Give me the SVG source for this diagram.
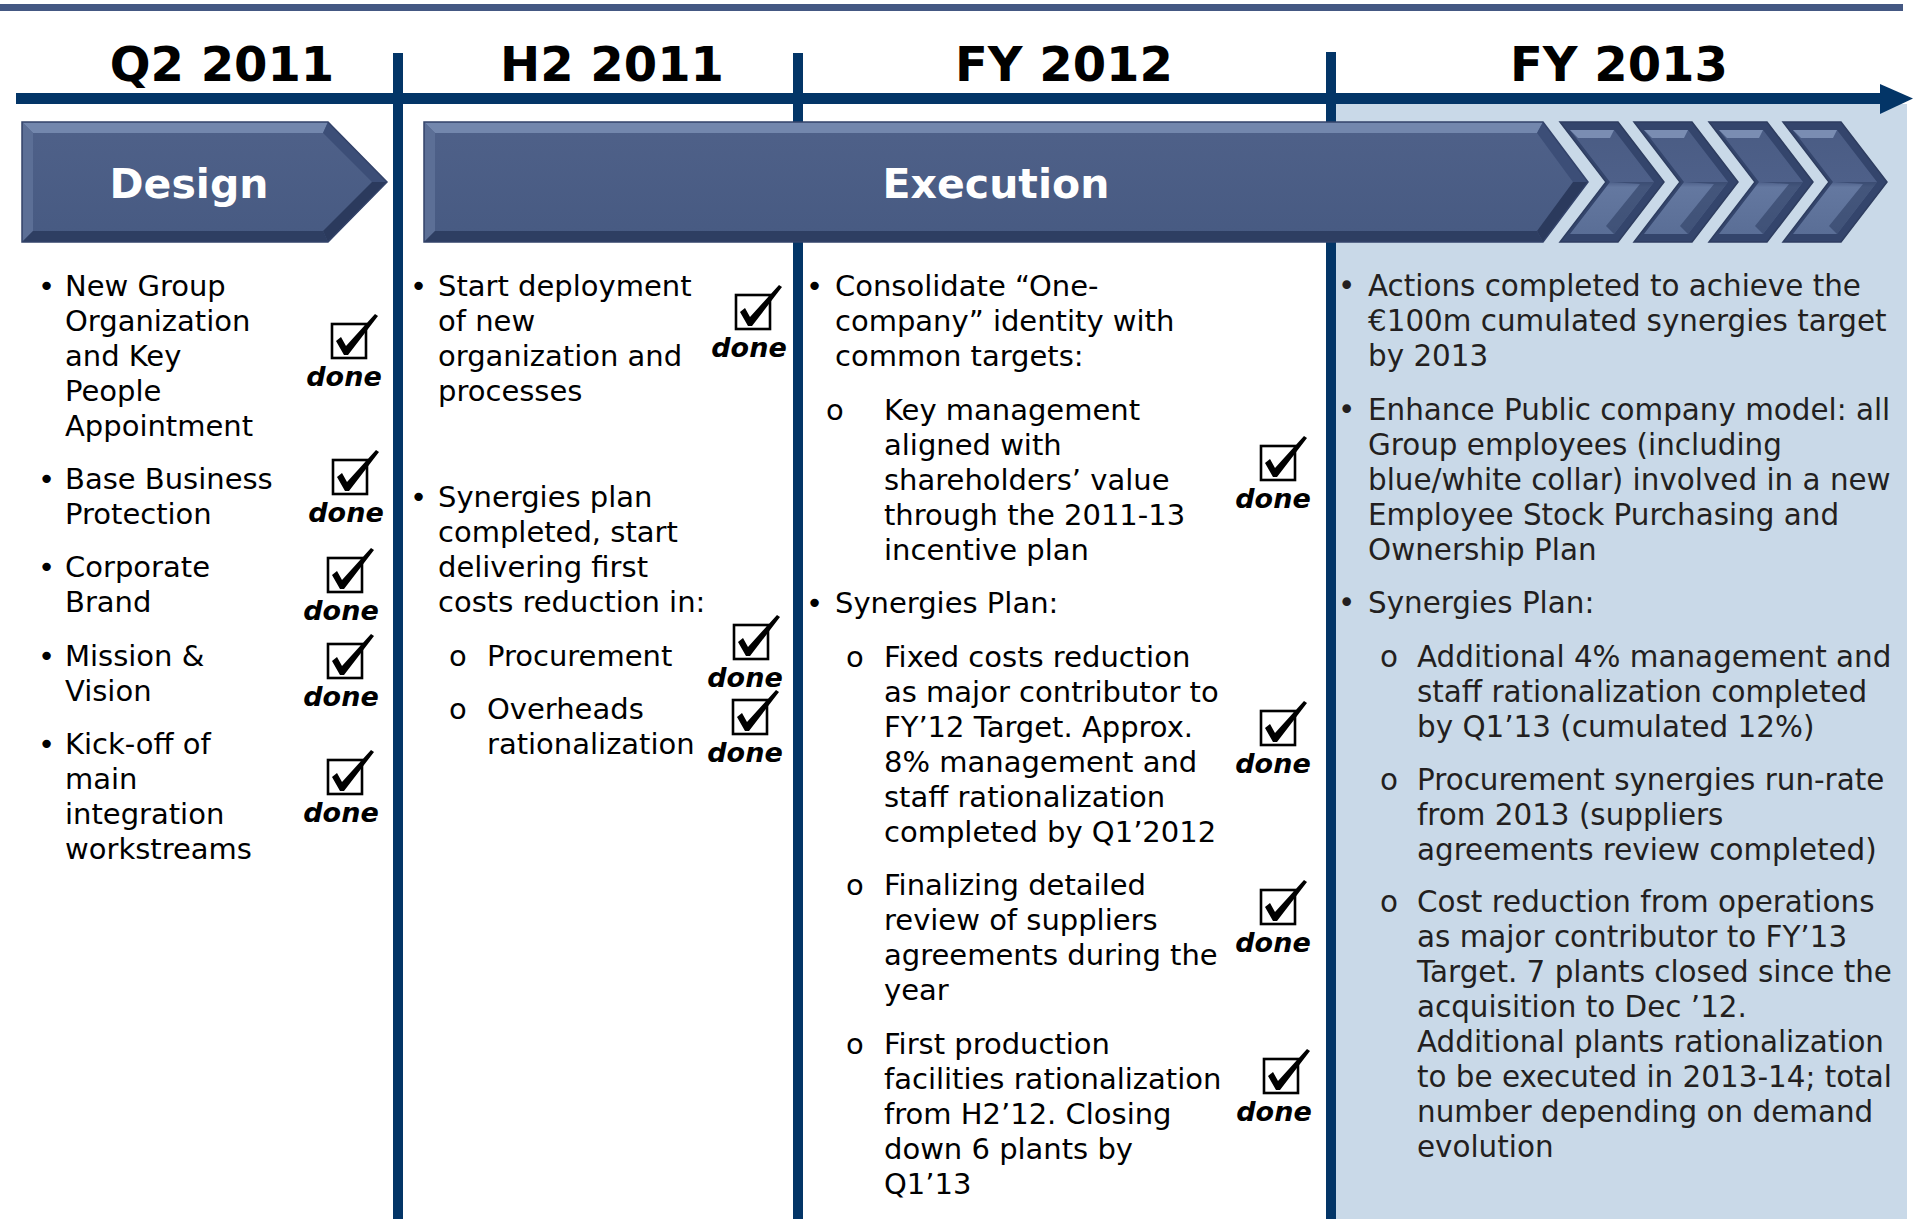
<svg xmlns="http://www.w3.org/2000/svg" xmlns:xlink="http://www.w3.org/1999/xlink" width="1925" height="1219" viewBox="0 0 1925 1219">
<style>
.t{font-family:"DejaVu Sans",Verdana,sans-serif;font-size:29px;fill:#000}
.t4{fill:#231F20;font-size:29.4px}
.hd{font-family:"DejaVu Sans",Verdana,sans-serif;font-weight:bold;font-size:48px;text-anchor:middle;fill:#000}
.ph{font-family:"DejaVu Sans",Verdana,sans-serif;font-weight:bold;font-size:41px;text-anchor:middle;fill:#fff}
.dn{font-family:"DejaVu Sans",Verdana,sans-serif;font-weight:bold;font-style:italic;font-size:27px;text-anchor:middle;fill:#000}
.div{fill:#033567}
.face{fill:url(#faceG)}
.btop{fill:#7387AD}
.bleft{fill:#5C6F96}
.bbot{fill:#2E3E62}
.bru{fill:#3C4E77}
.brl{fill:#2B3A5D}
.edge{fill:none;stroke:#33436A;stroke-width:1.5}
</style>
<defs>
<linearGradient id="faceG" x1="0" y1="0" x2="0" y2="1">
<stop offset="0" stop-color="#4F6189"/>
<stop offset="1" stop-color="#475A82"/>
</linearGradient>
<linearGradient id="chevG" x1="0" y1="0" x2="0" y2="1">
<stop offset="0" stop-color="#4A5C84"/>
<stop offset="0.5" stop-color="#4E6089"/>
<stop offset="0.55" stop-color="#6478A0"/>
<stop offset="1" stop-color="#5A6E96"/>
</linearGradient>
<g id="chev">
<polygon points="0,0 58,0 104,60 58,120 0,120 46,60" fill="#34456C" stroke="#2E3D60" stroke-width="1.5"/>
<polygon points="10,8 54,8 94,60 54,112 10,112 50,60" fill="url(#chevG)"/>
<polygon points="10,8 54,8 50,16 18,16" fill="#7A8DB2"/>
<polygon points="50,60 94,60 54,112 46,104 80,62" fill="#2F3F64" opacity="0.6"/>
</g>
<g id="box">
<rect x="-17" y="-17" width="34" height="34" fill="none" stroke="#000" stroke-width="2.6"/>
<path d="M-13,0 L-8,-4 L-3,5 L26,-27 L29,-25 L-1,14 L-5,14 Z" fill="#000"/>
</g>
</defs>

<rect id="topbar" x="0" y="4" width="1903" height="7" fill="#445883"/>

<rect id="panel-fy2013" x="1331" y="104" width="576" height="1115" fill="#C9D9E8"/>

<g id="connectors">
<rect class="div" x="16" y="93" width="1866" height="11"/>
<polygon class="div" points="1880,84 1913,98.5 1880,114"/>
<rect class="div" x="393" y="53" width="10" height="1166"/>
<rect class="div" x="793" y="53" width="10" height="1166"/>
<rect class="div" x="1326" y="52" width="10" height="1167"/>
</g>

<g id="headers">
<text class="hd" x="222" y="81">Q2 2011</text>
<text class="hd" x="612" y="81">H2 2011</text>
<text class="hd" x="1064" y="81">FY 2012</text>
<text class="hd" x="1619" y="81">FY 2013</text>
</g>

<g id="design-arrow">
<polygon class="face" points="22,122 328,122 387,182 328,242 22,242"/>
<polygon class="btop" points="22,122 328,122 323,133 33,133"/>
<polygon class="bleft" points="22,122 33,133 33,231 22,242"/>
<polygon class="bbot" points="22,242 33,231 323,231 328,242"/>
<polygon class="bru" points="328,122 387,182 372,182 323,133"/>
<polygon class="brl" points="387,182 328,242 323,231 372,182"/>
<polygon class="edge" points="22,122 328,122 387,182 328,242 22,242"/>
<text class="ph" x="189" y="198">Design</text>
</g>

<g id="execution-arrow">
<polygon class="face" points="424,122 1543,122 1588,182 1543,242 424,242"/>
<polygon class="btop" points="424,122 1543,122 1537,133 435,133"/>
<polygon class="bleft" points="424,122 435,133 435,231 424,242"/>
<polygon class="bbot" points="424,242 435,231 1537,231 1543,242"/>
<polygon class="bru" points="1543,122 1588,182 1573,182 1537,133"/>
<polygon class="brl" points="1588,182 1543,242 1537,231 1573,182"/>
<polygon class="edge" points="424,122 1543,122 1588,182 1543,242 424,242"/>
<use xlink:href="#chev" x="1560" y="122"/>
<use xlink:href="#chev" x="1634" y="122"/>
<use xlink:href="#chev" x="1709" y="122"/>
<use xlink:href="#chev" x="1783" y="122"/>
<text class="ph" x="996" y="198">Execution</text>
</g>

<g id="col-q2-2011">
<text class="t" x="38" y="296">•</text>
<text class="t" x="65" y="296">New Group</text>
<text class="t" x="65" y="331">Organization</text>
<text class="t" x="65" y="366">and Key</text>
<text class="t" x="65" y="401">People</text>
<text class="t" x="65" y="436">Appointment</text>
<text class="t" x="38" y="489">•</text>
<text class="t" x="65" y="489">Base Business</text>
<text class="t" x="65" y="524">Protection</text>
<text class="t" x="38" y="577">•</text>
<text class="t" x="65" y="577">Corporate</text>
<text class="t" x="65" y="612">Brand</text>
<text class="t" x="38" y="666">•</text>
<text class="t" x="65" y="666">Mission &amp;</text>
<text class="t" x="65" y="701">Vision</text>
<text class="t" x="38" y="754">•</text>
<text class="t" x="65" y="754">Kick-off of</text>
<text class="t" x="65" y="789">main</text>
<text class="t" x="65" y="824">integration</text>
<text class="t" x="65" y="859">workstreams</text>
<use xlink:href="#box" x="349" y="341"/>
<text class="dn" x="344" y="386">done</text>
<use xlink:href="#box" x="350" y="477"/>
<text class="dn" x="346" y="522">done</text>
<use xlink:href="#box" x="345" y="575"/>
<text class="dn" x="341" y="620">done</text>
<use xlink:href="#box" x="345" y="661"/>
<text class="dn" x="341" y="706">done</text>
<use xlink:href="#box" x="345" y="777"/>
<text class="dn" x="341" y="822">done</text>
</g>

<g id="col-h2-2011">
<text class="t" x="410" y="296">•</text>
<text class="t" x="438" y="296">Start deployment</text>
<text class="t" x="438" y="331">of new</text>
<text class="t" x="438" y="366">organization and</text>
<text class="t" x="438" y="401">processes</text>
<text class="t" x="410" y="507">•</text>
<text class="t" x="438" y="507">Synergies plan</text>
<text class="t" x="438" y="542">completed, start</text>
<text class="t" x="438" y="577">delivering first</text>
<text class="t" x="438" y="612">costs reduction in:</text>
<text class="t" x="449" y="666">o</text>
<text class="t" x="487" y="666">Procurement</text>
<text class="t" x="449" y="719">o</text>
<text class="t" x="487" y="719">Overheads</text>
<text class="t" x="487" y="754">rationalization</text>
<use xlink:href="#box" x="753" y="312"/>
<text class="dn" x="749" y="357">done</text>
<use xlink:href="#box" x="751" y="642"/>
<text class="dn" x="745" y="687">done</text>
<use xlink:href="#box" x="750" y="717"/>
<text class="dn" x="745" y="762">done</text>
</g>

<g id="col-fy2012">
<text class="t" x="806" y="296">•</text>
<text class="t" x="835" y="296">Consolidate “One-</text>
<text class="t" x="835" y="331">company” identity with</text>
<text class="t" x="835" y="366">common targets:</text>
<text class="t" x="826" y="420">o</text>
<text class="t" x="884" y="420">Key management</text>
<text class="t" x="884" y="455">aligned with</text>
<text class="t" x="884" y="490">shareholders’ value</text>
<text class="t" x="884" y="525">through the 2011-13</text>
<text class="t" x="884" y="560">incentive plan</text>
<text class="t" x="806" y="613">•</text>
<text class="t" x="835" y="613">Synergies Plan:</text>
<text class="t" x="846" y="667">o</text>
<text class="t" x="884" y="667">Fixed costs reduction</text>
<text class="t" x="884" y="702">as major contributor to</text>
<text class="t" x="884" y="737">FY’12 Target. Approx.</text>
<text class="t" x="884" y="772">8% management and</text>
<text class="t" x="884" y="807">staff rationalization</text>
<text class="t" x="884" y="842">completed by Q1’2012</text>
<text class="t" x="846" y="895">o</text>
<text class="t" x="884" y="895">Finalizing detailed</text>
<text class="t" x="884" y="930">review of suppliers</text>
<text class="t" x="884" y="965">agreements during the</text>
<text class="t" x="884" y="1000">year</text>
<text class="t" x="846" y="1054">o</text>
<text class="t" x="884" y="1054">First production</text>
<text class="t" x="884" y="1089">facilities rationalization</text>
<text class="t" x="884" y="1124">from H2’12. Closing</text>
<text class="t" x="884" y="1159">down 6 plants by</text>
<text class="t" x="884" y="1194">Q1’13</text>
<use xlink:href="#box" x="1278" y="463"/>
<text class="dn" x="1273" y="508">done</text>
<use xlink:href="#box" x="1278" y="728"/>
<text class="dn" x="1273" y="773">done</text>
<use xlink:href="#box" x="1278" y="907"/>
<text class="dn" x="1273" y="952">done</text>
<use xlink:href="#box" x="1281" y="1076"/>
<text class="dn" x="1274" y="1121">done</text>
</g>

<g id="col-fy2013">
<text class="t t4" x="1338" y="296">•</text>
<text class="t t4" x="1368" y="296">Actions completed to achieve the</text>
<text class="t t4" x="1368" y="331">€100m cumulated synergies target</text>
<text class="t t4" x="1368" y="366">by 2013</text>
<text class="t t4" x="1338" y="420">•</text>
<text class="t t4" x="1368" y="420">Enhance Public company model: all</text>
<text class="t t4" x="1368" y="455">Group employees (including</text>
<text class="t t4" x="1368" y="490">blue/white collar) involved in a new</text>
<text class="t t4" x="1368" y="525">Employee Stock Purchasing and</text>
<text class="t t4" x="1368" y="560">Ownership Plan</text>
<text class="t t4" x="1338" y="613">•</text>
<text class="t t4" x="1368" y="613">Synergies Plan:</text>
<text class="t t4" x="1380" y="667">o</text>
<text class="t t4" x="1417" y="667">Additional 4% management and</text>
<text class="t t4" x="1417" y="702">staff rationalization completed</text>
<text class="t t4" x="1417" y="737">by Q1’13 (cumulated 12%)</text>
<text class="t t4" x="1380" y="790">o</text>
<text class="t t4" x="1417" y="790">Procurement synergies run-rate</text>
<text class="t t4" x="1417" y="825">from 2013 (suppliers</text>
<text class="t t4" x="1417" y="860">agreements review completed)</text>
<text class="t t4" x="1380" y="912">o</text>
<text class="t t4" x="1417" y="912">Cost reduction from operations</text>
<text class="t t4" x="1417" y="947">as major contributor to FY’13</text>
<text class="t t4" x="1417" y="982">Target. 7 plants closed since the</text>
<text class="t t4" x="1417" y="1017">acquisition to Dec ’12.</text>
<text class="t t4" x="1417" y="1052">Additional plants rationalization</text>
<text class="t t4" x="1417" y="1087">to be executed in 2013-14; total</text>
<text class="t t4" x="1417" y="1122">number depending on demand</text>
<text class="t t4" x="1417" y="1157">evolution</text>
</g>
</svg>
